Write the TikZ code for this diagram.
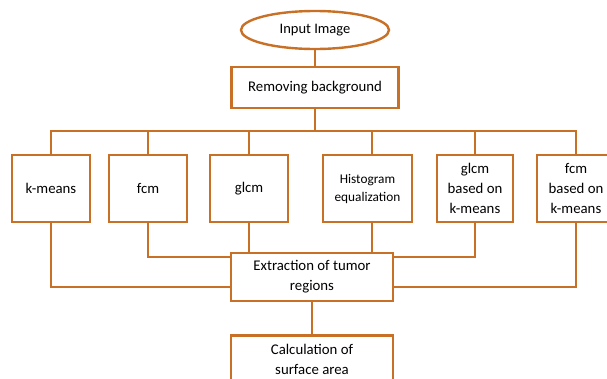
\documentclass[tikz,border=0pt]{standalone}
\usepackage{fontspec}
\setmainfont{Carlito}
\usetikzlibrary{positioning,shapes.geometric}
\definecolor{boxorange}{RGB}{200,112,38}

\begin{document}
\begin{tikzpicture}[x=1pt, y=-1pt,
        box/.style={draw=boxorange, line width=2.4pt, align=center, inner sep=2pt,
            minimum width=78pt, minimum height=67pt, font=\fontsize{14.8}{20}\selectfont},
        link/.style={draw=boxorange, line width=1.6pt}]
                \useasboundingbox (0,0) rectangle (607,378);

                \node[ellipse, draw=boxorange, line width=2.4pt, minimum width=148pt,
                    minimum height=38pt, font=\fontsize{14.5}{20}\selectfont] (in) at (315,30) {Input Image};
                \node[box, minimum width=167pt, minimum height=41pt] (bg) at (315,87.5) {Removing background};

                % methods
                \node[box]                        (km) at (51,188.5)    {k-means};
                \node[box]                        (fc) at (148,188.5)   {fcm};
                \node[box]                        (gl) at (249,188.5)   {glcm};
                \node[box, minimum width=89pt,
                    font=\fontsize{13.3}{18}\selectfont] (hi) at (367.5,188.5) {Histogram\\equalization};
                \node[box, minimum width=76pt]    (gk) at (475,188.5)   {glcm\\based on\\k-means};
                \node[box]                        (fk) at (576,188.5)   {fcm\\based on\\k-means};

                \node[box, minimum width=162pt, minimum height=48pt] (ex) at (312,277) {Extraction of tumor\\regions};
                \node[box, minimum width=162pt, minimum height=48pt] (ca) [below = 32pt of ex] {Calculation of\\surface area};

                \coordinate (bus) at (315,131);

                \path[link]
                (in) -- (bg)
                (bg) -- (bus)
                (km.north) |- (bus) -| (fk.north)
                (fc.north) -- (fc.north |- bus)
                (gl.north) -- (gl.north |- bus)
                ([xshift=4.5pt]hi.north) -- ([xshift=4.5pt]hi.north |- bus)
                (gk.north) -- (gk.north |- bus)
                (fc.south) |- ([yshift=-5pt]ex.north west)
                (gk.south) |- ([yshift=-5pt]ex.north east)
                (km.south) |- ([yshift=15pt]ex.south west)
                (fk.south) |- ([yshift=15pt]ex.south east)
                (gl.south) -- (gl.south |- ex.north)
                ([xshift=4.5pt]hi.south) -- ([xshift=4.5pt]hi.south |- ex.north)
                (ex) -- (ca);
            \end{tikzpicture}
\end{document}
